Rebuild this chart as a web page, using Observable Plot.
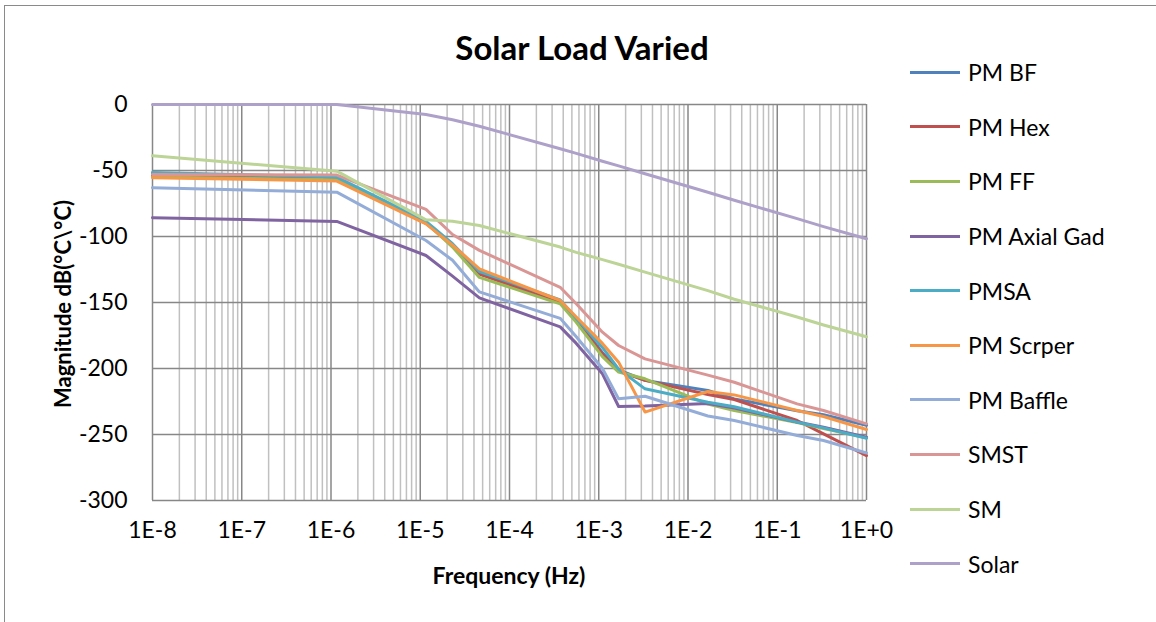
<!DOCTYPE html>
<html>
<head>
<meta charset="utf-8">
<script src="https://cdn.jsdelivr.net/npm/d3@7"></script>
<script src="https://cdn.jsdelivr.net/npm/@observablehq/plot@0.6"></script>
<style>
  html, body { margin: 0; padding: 0; background: #fff; }
  #wrap { position: relative; width: 1156px; height: 622px; overflow: hidden; font-family: Lato, "Noto Sans", sans-serif; }
  #frame { position: absolute; left: 4px; top: 5px; width: 1160px; height: 640px; border: 1.5px solid #8a8a8a; box-sizing: border-box; }
  #chart { position: absolute; left: 0; top: 0; }
  .title { position: absolute; left: 0; width: 1164px; top: 27px; text-align: center; font-weight: bold; font-size: 33px; }
  .xlabel { position: absolute; left: 359px; width: 300px; top: 561px; text-align: center; font-weight: bold; font-size: 23px; }
  .ylabel { position: absolute; left: 62px; top: 304px; transform: translate(-50%, -50%) rotate(-90deg); white-space: nowrap; font-weight: bold; font-size: 22px; }
  #legend { position: absolute; left: 910px; top: 45px; }
  .item { display: flex; align-items: center; height: 54.6px; font-size: 23px; }
  .swatch { width: 50px; height: 3px; margin-right: 8px; }
</style>
</head>
<body>
<div id="wrap">
  <div id="frame"></div>
  <div id="chart"></div>
  <div class="title">Solar Load Varied</div>
  <div class="xlabel">Frequency (Hz)</div>
  <div class="ylabel">Magnitude dB(°C\°C)</div>
  <div id="legend"></div>
</div>
<script>
const freqs = [1e-8, 1.16e-6, 1.16e-5, 2.3e-5, 4.6e-5, 3.7e-4, 5.6e-4, 1.1e-3, 1.67e-3, 3.3e-3, 1.67e-2, 3.3e-2, 1.67e-1, 3.3e-1, 1];

const pmBF      = [-52,   -55.5, -89.5, -106,   -127.5, -149.5, -163, -188,   -201,   -209,   -216.7, -223,   -232,   -235,   -243];
const pmHex     = [-54,   -56.5, -90,   -106.5, -128.5, -150,   -164, -189,   -202,   -209,   -219.7, -223.5, -239.4, -249.5, -266];
const pmFF      = [-55,   -57,   -89.5, -108,   -131,   -151,   -165, -191,   -202.7, -207.8, -227,   -231.8, -241,   -245.5, -252.5];
const pmAxial   = [-85.8, -88.6, -114.4,-130,   -146.5, -168.5, -181, -204,   -228.8, -228.5, -226.5, -230,   -240.6, -244.5, -252];
const pmSA      = [-51.5, -55,   -88.5, -105.5, -126.5, -148,   -162, -184,   -200.5, -215.4, -225.5, -229,   -240.6, -245,   -252.8];
const pmScrper  = [-55.5, -58,   -90.4, -106.5, -124.5, -148.5, -161, -181,   -195.2, -233,   -217.4, -220,   -231.8, -236.4, -246.2];
const pmBaffle  = [-63,   -66.4, -103,  -118,   -142,   -162,   -176, -200,   -223,   -221,   -236,   -239.4, -250.7, -254.5, -264];
const smst      = [-53,   -53.5, -79.5, -98.5,  -110.5, -138.5, -151, -172.5, -182.6, -192.7, -205,   -210.4, -226.8, -231.8, -241.9];
const sm        = [-38.9, -50.5, -87.4, -88.5,  -91.7,  -108,   -112, -117.5, -121,   -127,   -141,   -147.5, -161,   -167,   -176];
const solar     = [0,     0,     -7.6,  -11.5,  -16.5,  -33.5,  -37,  -43,    -46.5,  -52.5,  -66.5,  -72.5,  -86.5,  -92.5,  -101.7];

const seriesNames = ["PM BF", "PM Hex", "PM FF", "PM Axial Gad", "PMSA", "PM Scrper", "PM Baffle", "SMST", "SM", "Solar"];
const seriesValues = [pmBF, pmHex, pmFF, pmAxial, pmSA, pmScrper, pmBaffle, smst, sm, solar];
const seriesColors = ["#4F81BD", "#C0504D", "#9BBB59", "#8064A2", "#4BACC6", "#F79646", "#93ADD8", "#D99694", "#BCD496", "#ADA0C9"];

const xTickValues = [1e-8, 1e-7, 1e-6, 1e-5, 1e-4, 1e-3, 1e-2, 1e-1, 1];
const xTickLabels = ["1E-8", "1E-7", "1E-6", "1E-5", "1E-4", "1E-3", "1E-2", "1E-1", "1E+0"];
const yTicks = [0, -50, -100, -150, -200, -250, -300];

const data = seriesNames.flatMap((name, i) =>
  seriesValues[i].map((v, j) => ({ name, f: freqs[j], v })));

const minorTicks = [];
for (let d = -8; d < 0; d++) for (let k = 2; k <= 9; k++) minorTicks.push(k * Math.pow(10, d));

const labelOf = new Map(xTickValues.map((v, i) => [v, xTickLabels[i]]));

const chart = Plot.plot({
  width: 1156,
  height: 622,
  marginLeft: 152,
  marginRight: 290,
  marginTop: 104,
  marginBottom: 122,
  x: { type: "log", domain: [1e-8, 1] },
  y: { domain: [-300, 0] },
  color: { domain: seriesNames, range: seriesColors },
  style: { fontFamily: "Lato, 'Noto Sans', sans-serif", fontSize: "22px", color: "#000", background: "transparent", overflow: "visible" },
  marks: [
    Plot.ruleX(minorTicks, { stroke: "#c0c0c0", strokeWidth: 1.5 }),
    Plot.ruleX(xTickValues, { stroke: "#878787", strokeWidth: 1.5 }),
    Plot.ruleY(yTicks, { stroke: "#878787", strokeWidth: 1.5 }),
    Plot.line(data, { x: "f", y: "v", z: "name", stroke: "name", strokeWidth: 3, strokeLinejoin: "round" }),
    Plot.axisX(xTickValues, { tickFormat: d => labelOf.get(d), tickSize: 0, tickPadding: 21, label: null, fontSize: 23 }),
    Plot.axisY(yTicks, { tickFormat: d => String(d), tickSize: 0, tickPadding: 25, label: null, fontSize: 23 })
  ]
});
document.getElementById("chart").appendChild(chart);

const legend = document.getElementById("legend");
seriesNames.forEach((name, i) => {
  const item = document.createElement("div");
  item.className = "item";
  const sw = document.createElement("div");
  sw.className = "swatch";
  sw.style.background = seriesColors[i];
  const t = document.createElement("span");
  t.textContent = name;
  item.appendChild(sw);
  item.appendChild(t);
  legend.appendChild(item);
});
</script>
</body>
</html>
